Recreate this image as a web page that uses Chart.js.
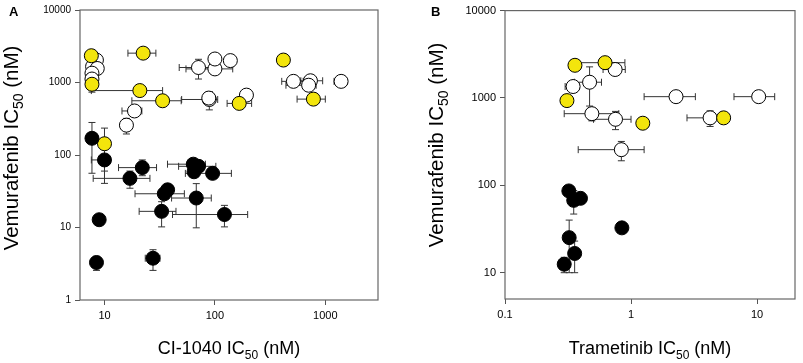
<!DOCTYPE html>
<html lang="en">
<head>
<meta charset="UTF-8">
<title>Vemurafenib vs MEK inhibitor IC50</title>
<script src="https://cdn.jsdelivr.net/npm/chart.js"></script>
<style>
  body { margin: 0; background: #fff; }
  canvas { position: absolute; top: 0; }
</style>
</head>
<body>
<canvas id="chartA" width="400" height="363" style="left:0"></canvas>
<canvas id="chartB" width="403" height="363" style="left:400px"></canvas>
<script>
// ---- panel A: CI-1040 IC50 vs vemurafenib IC50 (nM) ----
const aXTicks = [10, 100, 1000];
const aYTicks = [1, 10, 100, 1000, 10000];

const aBlack = [[7.7, 170], [10, 85.5], [17, 47.6], [22, 67], [63.7, 74.7], [71, 69.8], [64.7, 58.7],
  [95.3, 55.8], [37.3, 33.1], [34.8, 29.2], [67.8, 25.5], [32.9, 16.7], [122, 15.1], [8.95, 12.8],
  [8.46, 3.29], [27.5, 3.77]];
const aBlackXErr = [null, [7.6, 11.3], [7.9, 25.8], [13.4, 29.6], [37.2, 82], [46.9, 102], null,
  [54, 141], null, [18.9, 52.9], [40.5, 92.7], [20.6, 44.4], [41.3, 198], null,
  null, [23.4, 31.8]];
const aBlackYErr = [[56, 281], [40.6, 130], [34.8, 60], [51.8, 85.5], null, null, null,
  null, null, null, [9.9, 40.3], [10.2, 22.7], [10.2, 20.2], null,
  [2.56, 4.0], [2.56, 4.94]];

const aYellow = [[7.6, 2340], [22.4, 2540], [417, 2040], [7.7, 946], [20.9, 774], [33.6, 560],
  [166, 515], [780, 590], [10, 143]];
const aYellowXErr = [null, [16.3, 29.2], null, null, [7.6, 33.6], [17.7, 49.5],
  [129, 215], [555, 1000], null];
const aYellowYErr = [null, [2150, 2950], null, [736, 1160], null, null,
  null, null, [60, 235]];

const aWhite = [[8.45, 2040], [7.8, 1660], [8.6, 1560], [7.7, 1345], [7.7, 1117], [18.7, 405],
  [15.8, 258], [71, 1610], [100, 1540], [100, 2110], [138, 2005], [193, 670], [89, 583], [88, 610],
  [514, 1037], [733, 1057], [706, 917], [1390, 1037]];
const aWhiteXErr = [null, null, null, null, null, [14.4, 21.8],
  null, [47.5, 100], [54.7, 145], null, null, null, [50, 106], null,
  [403, 630], [600, 946], [440, 826], [1200, 1580]];
const aWhiteYErr = [null, null, null, null, null, null,
  [195, 320], [1117, 2090], null, null, null, null, [419, 750], null,
  null, null, null, null];

// ---- panel B: trametinib IC50 vs vemurafenib IC50 (nM) ----
const bXTicks = [0.1, 1, 10];
const bYTicks = [10, 100, 1000, 10000];

const bBlack = [[0.321, 86.3], [0.351, 67.3], [0.397, 71], [0.846, 32.6], [0.323, 25.2],
  [0.357, 16.6], [0.295, 12.5]];
const bBlackXErr = [null, null, null, null, null, null, null];
const bBlackYErr = [null, [46.9, 87], null, null, [10, 40], [10, 23], [10, 15]];

const bYellow = [[0.359, 2366], [0.622, 2535], [0.310, 933], [1.24, 514], [5.43, 592]];
const bYellowXErr = [null, [0.35, 0.894], null, null, null];
const bYellowYErr = [null, null, null, null, null];

const bWhite = [[0.748, 2118], [0.469, 1514], [0.347, 1352], [2.275, 1035], [10.3, 1035],
  [0.489, 661], [0.753, 570], [4.24, 592], [0.838, 256]];
const bWhiteXErr = [[0.6, 0.9], [0.355, 0.583], [0.30, 0.39], [1.27, 3.24], [6.56, 13.8],
  [0.295, 0.80], [0.504, 1.0], [2.78, 5.86], [0.381, 1.27]];
const bWhiteYErr = [null, [808, 2270], null, null, [960, 1110],
  [547, 775], [434, 702], [472, 712], [191, 318]];

const FONT = '"Liberation Sans", Arial, Helvetica, sans-serif';
const CAP = 3.5;

function series(points, xerr, yerr, fill) {
  return {
    data: points.map((p, i) => ({ x: p[0], y: p[1], xerr: xerr[i], yerr: yerr[i] })),
    backgroundColor: fill,
    borderColor: '#000',
    borderWidth: 1,
    pointRadius: 7
  };
}

// error bars are drawn under the markers
const errorBars = {
  id: 'errorBars',
  beforeDatasetsDraw(chart) {
    const { ctx, chartArea: a, scales: { x, y } } = chart;
    ctx.save();
    ctx.beginPath();
    ctx.rect(a.left, a.top, a.right - a.left, a.bottom - a.top);
    ctx.clip();
    ctx.strokeStyle = '#333';
    ctx.lineWidth = 1;
    chart.data.datasets.forEach(ds => ds.data.forEach(p => {
      const px = x.getPixelForValue(p.x), py = y.getPixelForValue(p.y);
      ctx.beginPath();
      if (p.xerr) {
        const l = x.getPixelForValue(p.xerr[0]), r = x.getPixelForValue(p.xerr[1]);
        ctx.moveTo(l, py); ctx.lineTo(r, py);
        ctx.moveTo(l, py - CAP); ctx.lineTo(l, py + CAP);
        ctx.moveTo(r, py - CAP); ctx.lineTo(r, py + CAP);
      }
      if (p.yerr) {
        const lo = y.getPixelForValue(p.yerr[0]), hi = y.getPixelForValue(p.yerr[1]);
        ctx.moveTo(px, lo); ctx.lineTo(px, hi);
        ctx.moveTo(px - CAP, lo); ctx.lineTo(px + CAP, lo);
        ctx.moveTo(px - CAP, hi); ctx.lineTo(px + CAP, hi);
      }
      ctx.stroke();
    }));
    ctx.restore();
  }
};

function drawSubText(ctx, parts, cx, base, size) {
  const big = size + 'px ' + FONT, small = Math.round(size * 0.68) + 'px ' + FONT;
  ctx.font = big;
  const w1 = ctx.measureText(parts[0]).width, w3 = ctx.measureText(parts[2]).width;
  ctx.font = small;
  const w2 = ctx.measureText(parts[1]).width;
  let x = cx - (w1 + w2 + w3) / 2;
  ctx.textAlign = 'left';
  ctx.textBaseline = 'alphabetic';
  ctx.fillStyle = '#000';
  ctx.font = big; ctx.fillText(parts[0], x, base); x += w1;
  ctx.font = small; ctx.fillText(parts[1], x, base + 5); x += w2;
  ctx.font = big; ctx.fillText(parts[2], x, base);
}

// frame, panel letter and axis titles with subscripts
const decor = {
  id: 'decor',
  beforeDatasetsDraw(chart) {
    const { ctx, chartArea: a } = chart;
    ctx.save();
    ctx.strokeStyle = '#666';
    ctx.lineWidth = 1.2;
    ctx.strokeRect(a.left, a.top, a.right - a.left, a.bottom - a.top);
    ctx.restore();
  },
  afterDraw(chart, args, opts) {
    const { ctx, chartArea: a } = chart;
    ctx.save();
    ctx.fillStyle = '#000';
    ctx.font = 'bold 13px ' + FONT;
    ctx.textBaseline = 'alphabetic';
    ctx.fillText(opts.letter, opts.letterX, 16);
    drawSubText(ctx, opts.xTitle, (a.left + a.right) / 2, 354, 18);
    ctx.translate(opts.yTitleX, opts.yTitleY);
    ctx.rotate(-Math.PI / 2);
    drawSubText(ctx, opts.yTitle, 0, 0, 20.5);
    ctx.restore();
  }
};

function axis(min, max, tickValues, fit, fontSize) {
  return {
    type: 'logarithmic',
    min: min,
    max: max,
    afterBuildTicks: s => { s.ticks = tickValues.map(v => ({ value: v })); },
    afterFit: fit,
    ticks: {
      callback: v => String(v),
      font: { family: FONT, size: fontSize },
      color: '#000',
      padding: 4,
      autoSkip: false,
      maxRotation: 0
    },
    grid: { drawOnChartArea: false, drawTicks: true, tickLength: 5, color: '#555' },
    border: { display: false }
  };
}

function makePanel(id, sets, xr, yr, xTicks, yTicks, yWidth, yFont, pad, text) {
  return new Chart(document.getElementById(id), {
    type: 'scatter',
    data: { datasets: sets },
    options: {
      responsive: false,
      devicePixelRatio: 1,
      animation: false,
      events: [],
      layout: { padding: pad },
      scales: {
        x: axis(xr[0], xr[1], xTicks, s => { s.height = 63; }, 11),
        y: axis(yr[0], yr[1], yTicks, s => { s.width = yWidth; }, yFont)
      },
      plugins: { legend: { display: false }, tooltip: { enabled: false }, decor: text }
    },
    plugins: [errorBars, decor]
  });
}

makePanel('chartA', [
  series(aBlack, aBlackXErr, aBlackYErr, '#000'),
  series(aYellow, aYellowXErr, aYellowYErr, '#f3e50c'),
  series(aWhite, aWhiteXErr, aWhiteYErr, '#fff')
], [6, 3000], [1, 10000], aXTicks, aYTicks, 80, 10,
  { left: 0, top: 6, right: 22, bottom: 0 },
  { letter: 'A', letterX: 9, xTitle: ['CI-1040 IC', '50', ' (nM)'],
    yTitle: ['Vemurafenib IC', '50', ' (nM)'], yTitleX: 18, yTitleY: 148 });

makePanel('chartB', [
  series(bBlack, bBlackXErr, bBlackYErr, '#000'),
  series(bYellow, bYellowXErr, bYellowYErr, '#f3e50c'),
  series(bWhite, bWhiteXErr, bWhiteYErr, '#fff')
], [0.1, 20], [5, 10000], bXTicks, bYTicks, 105, 11,
  { left: 0, top: 6, right: 1, bottom: 1 },
  { letter: 'B', letterX: 31, xTitle: ['Trametinib IC', '50', ' (nM)'],
    yTitle: ['Vemurafenib IC', '50', ' (nM)'], yTitleX: 43, yTitleY: 145 });
</script>
</body>
</html>
